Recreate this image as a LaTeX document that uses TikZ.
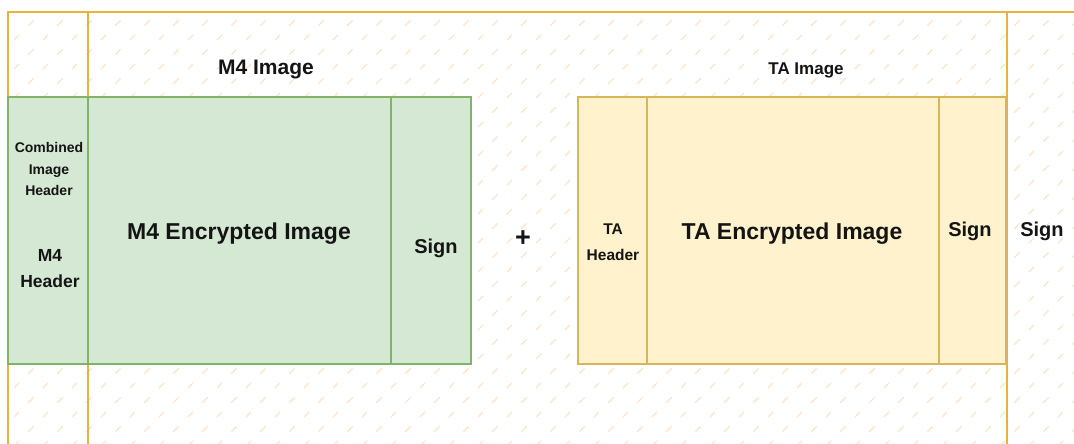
\documentclass[tikz,border=0pt]{standalone}
\usepackage{fontspec}
\setmainfont{Liberation Sans}
\definecolor{lineorange}{RGB}{232,178,60}
\definecolor{hatchc}{RGB}{255,226,202}
\definecolor{greenfill}{HTML}{D5E8D4}
\definecolor{greenstroke}{HTML}{82B366}
\definecolor{yellowfill}{HTML}{FFF2CC}
\definecolor{yellowstroke}{HTML}{D6B656}
\definecolor{txt}{RGB}{20,20,20}
\begin{document}
\begin{tikzpicture}[x=1pt,y=-1pt,
  orangeline/.style={draw=lineorange, line width=2pt},
  hatchline/.style={draw=hatchc, line width=1.2pt, line cap=round},
  greenbox/.style={draw=greenstroke, fill=greenfill, line width=1.5pt, inner sep=0pt, outer sep=0pt},
  yellowbox/.style={draw=yellowstroke, fill=yellowfill, line width=1.5pt, inner sep=0pt, outer sep=0pt},
  lbl/.style={text=txt, inner sep=0pt, align=center, font=\bfseries\fontsize{#1}{#1}\selectfont},
  lbl/.default=20
]
\useasboundingbox (0,0) rectangle (1074,444);
% hatched background
\begin{scope}
  \clip (8,12) rectangle (1074,444);
  \foreach \j in {0,...,31}{
    \foreach \i in {-1,...,37}{
      \pgfmathsetmacro\xx{16.5+29*\i+14.5*mod(\j,2)}
      \pgfmathsetmacro\yy{8.5+14.5*\j}
      \draw[hatchline] (\xx-2.5,\yy+2.5) -- (\xx+2.5,\yy-2.5);
    }
  }
\end{scope}
% frame lines
\coordinate (tl) at (8,12);
\coordinate (bl) at (8,444);
\coordinate (tr) at (1074,12);
\coordinate (c2t) at (88,12);
\coordinate (c2b) at (88,444);
\coordinate (c3t) at (1007,12);
\coordinate (c3b) at (1007,444);
\draw[orangeline] (bl) -- (tl) -- (tr);
\draw[orangeline] (c2t) -- (c2b);
\draw[orangeline] (c3t) -- (c3b);
% M4 image boxes
\node[greenbox, minimum width=80pt, minimum height=267pt] (m4hdr) at (48,230.5) {};
\node[greenbox, minimum width=303pt, minimum height=267pt] (m4enc) at (239.5,230.5) {};
\node[greenbox, minimum width=80pt, minimum height=267pt] (m4sign) at (431,230.5) {};
% TA image boxes
\node[yellowbox, minimum width=69pt, minimum height=267pt] (tahdr) at (612.5,230.5) {};
\node[yellowbox, minimum width=292pt, minimum height=267pt] (taenc) at (793,230.5) {};
\node[yellowbox, minimum width=67pt, minimum height=267pt] (tasign) at (972.5,230.5) {};
% labels
\node[lbl=21] (m4title) at (266,70) {M4 Image};
\node[lbl=17] (tatitle) at (806,70) {TA Image};
\node[lbl=14, font=\bfseries\fontsize{14}{21.5}\selectfont] (comb) at (49,169) {Combined\\Image\\Header};
\node[lbl=17.5, font=\bfseries\fontsize{17.5}{26}\selectfont] (m4h) at (50,269) {M4\\Header};
\node[lbl=23] (m4e) at (239,233.5) {M4 Encrypted Image};
\node[lbl=20] (m4s) at (436,248.5) {Sign};
\node[lbl=27] (plus) at (523,239) {+};
\node[lbl=15.5, font=\bfseries\fontsize{15.5}{26}\selectfont] (tah) at (613,242) {TA\\Header};
\node[lbl=23] (tae) at (792,233.5) {TA Encrypted Image};
\node[lbl=20] (tas) at (970,231) {Sign};
\node[lbl=20] (sign) at (1042,231) {Sign};
\end{tikzpicture}
\end{document}
